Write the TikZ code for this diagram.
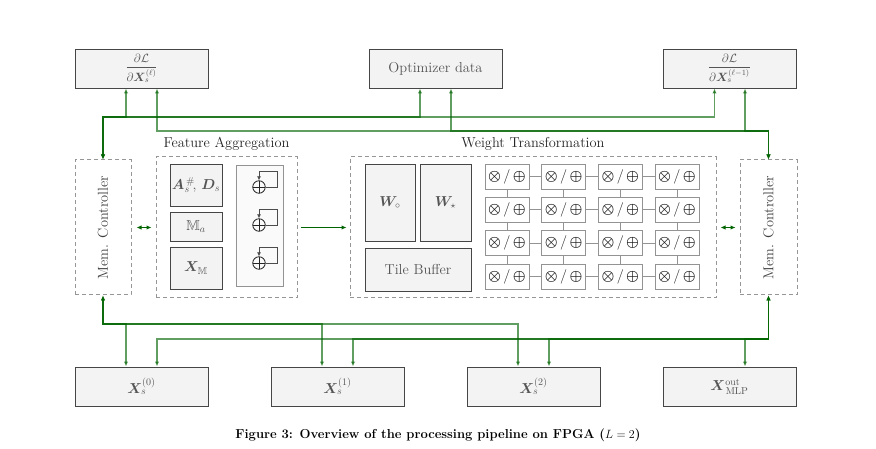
\documentclass[tikz,border=0pt]{standalone}
\usepackage{amsmath,amssymb,bm}
\usetikzlibrary{arrows.meta,calc}
\definecolor{gr}{RGB}{0,100,0}
\definecolor{boxfill}{RGB}{243,243,243}
\definecolor{boxline}{RGB}{70,70,70}
\definecolor{txt}{RGB}{85,85,85}
\definecolor{dashc}{RGB}{150,150,150}
\newcommand\fsz{\fontsize{14.4}{16}\selectfont}
\begin{document}
\begin{tikzpicture}[x=1pt,y=-1pt,
  box/.style={draw=boxline, fill=boxfill, line width=0.95pt, inner sep=0pt, text=txt, font=\fsz},
  iobox/.style={box, minimum width=133pt, minimum height=39pt},
  cont/.style={draw=dashc, dash pattern=on 4pt off 3pt, line width=1pt, inner sep=0pt},
  pe/.style={draw=gray!85, fill=white, line width=0.9pt, minimum width=44pt, minimum height=25pt, inner sep=0pt, text=black!90, font=\fontsize{14.4}{16}\selectfont},
  peline/.style={draw=gray!85, line width=0.9pt},
  sumnode/.style={circle, draw=black!85, line width=0.8pt, minimum size=12.5pt, inner sep=0pt,
    path picture={\draw[black!85, line width=0.8pt] (path picture bounding box.north) -- (path picture bounding box.south)
      (path picture bounding box.west) -- (path picture bounding box.east);}},
  loopline/.style={draw=black!70, line width=0.8pt, -{Latex[length=4pt,width=4pt]}},
  gline/.style={draw=gr, line width=1.5pt, opacity=0.62, {Latex[length=5pt,width=4.5pt]}-{Latex[length=5pt,width=4.5pt]}},
  garrow/.style={draw=gr, line width=1.3pt, -{Latex[length=5pt,width=4.5pt]}},
  gdarrow/.style={draw=gr, line width=1.3pt, {Latex[length=5pt,width=4.5pt]}-{Latex[length=5pt,width=4.5pt]}},
  lbl/.style={font=\fsz, text=black!85, inner sep=0pt}
]
\useasboundingbox[fill=white] (0,0) rectangle (876,449);

% top boxes
\node[iobox, font=\fontsize{12}{14}\selectfont] (d1) at (141.5,68.5) {$\displaystyle\frac{\partial\mathcal{L}}{\partial\bm{X}_s^{(\ell)}}$};
\node[iobox] (opt) at (435.5,68.5) {Optimizer data};
\node[iobox, font=\fontsize{12}{14}\selectfont] (d2) at (729.5,68.5) {$\displaystyle\frac{\partial\mathcal{L}}{\partial\bm{X}_s^{(\ell-1)}}$};

% bottom boxes
\node[iobox] (x0) at (141.5,386.5) {$\bm{X}_s^{(0)}$};
\node[iobox] (x1) at (337.5,386.5) {$\bm{X}_s^{(1)}$};
\node[iobox] (x2) at (533.5,386.5) {$\bm{X}_s^{(2)}$};
\node[iobox] (xo) at (729.5,386.5) {$\bm{X}^{\mathrm{out}}_{\mathrm{\,MLP}}$};

% memory controllers
\node[cont, minimum width=56pt, minimum height=135pt] (lmc) at (103,227.5) {};
\node[lbl, rotate=90, text=black!75] at (lmc.center) {Mem. Controller};
\node[cont, minimum width=57pt, minimum height=135pt] (rmc) at (768.5,227.5) {};
\node[lbl, rotate=90, text=black!75] at (rmc.center) {Mem. Controller};

% feature aggregation
\node[cont, minimum width=141pt, minimum height=141pt] (fa) at (226.5,227.5) {};
\node[lbl, anchor=base] (falbl) at (226.5,148) {Feature Aggregation};
\node[box, minimum width=52pt, minimum height=42pt] (amat) at (196,185) {$\bm{A}_{s}^{\,\#}\!,\,\bm{D}_s$};
\node[box, minimum width=52pt, minimum height=29pt] (ma) at (196,226.5) {$\mathbb{M}_a$};
\node[box, minimum width=52pt, minimum height=42pt] (xm) at (196,268) {$\bm{X}_{\mathbb{M}}$};
\node[draw=gray!85, fill=black!2, line width=0.9pt, minimum width=47pt, minimum height=121pt, inner sep=0pt] (agg) at (259.5,225.5) {};
\foreach \n/\yy in {s1/187,s2/225,s3/263}{
  \node[sumnode] (\n) at (259,\yy) {};
  \draw[loopline] (\n.east) -- ++(12,0) |- ($(\n.north)+(0,-9)$) -- (\n.north);
}

% weight transformation
\node[cont, minimum width=366pt, minimum height=141pt] (wt) at (533,227.5) {};
\node[lbl, anchor=base] (wtlbl) at (533,148) {Weight Transformation};
\node[box, minimum width=50pt, minimum height=77pt] (wo) at (390,202.5) {$\bm{W}_{\circ}$};
\node[box, minimum width=51pt, minimum height=77pt] (ws) at (445.5,202.5) {$\bm{W}_{\star}$};
\node[box, minimum width=106pt, minimum height=43pt] (tb) at (418,269.5) {Tile Buffer};

\foreach \r [count=\i] in {176.5,209.8,243.2,276.5}
  \foreach \c [count=\j] in {507,563.7,620.3,677}
    \node[pe] (pe-\i-\j) at (\c,\r) {$\bm{\otimes}\,/\,\bm{\oplus}$};
\foreach \i in {1,...,4}
  \foreach \j/\k in {1/2,2/3,3/4}{
    \draw[peline] (pe-\i-\j) -- (pe-\i-\k);
    \draw[peline] (pe-\j-\i) -- (pe-\k-\i);
  }

% short green arrows
\draw[gdarrow, shorten <=5pt, shorten >=4pt] (lmc.east) -- (fa.west);
\draw[garrow, shorten <=3pt, shorten >=3pt] (fa.east) -- (wt.west);
\draw[gdarrow, shorten <=4pt, shorten >=4pt] (wt.east) -- (rmc.west);

% anchor coordinates for buses
\coordinate (busA) at (0,117);
\coordinate (busB) at (0,131);
\coordinate (busC) at (0,324);
\coordinate (busD) at (0,339);
\coordinate (ta1) at ([xshift=-15.5pt]d1.south);
\coordinate (ta2) at ([xshift=15.5pt]d1.south);
\coordinate (to1) at ([xshift=-15.5pt]opt.south);
\coordinate (to2) at ([xshift=15.5pt]opt.south);
\coordinate (tb1) at ([xshift=-15pt]d2.south);
\coordinate (tb2) at ([xshift=15.5pt]d2.south);
\coordinate (b01) at ([xshift=-15.5pt]x0.north);
\coordinate (b02) at ([xshift=15.5pt]x0.north);
\coordinate (b11) at ([xshift=-15.5pt]x1.north);
\coordinate (b12) at ([xshift=15.5pt]x1.north);
\coordinate (b21) at ([xshift=-15.5pt]x2.north);
\coordinate (b22) at ([xshift=15.5pt]x2.north);
\coordinate (bo2) at ([xshift=15.5pt]xo.north);

% top buses
\foreach \t in {ta1,to1,tb1}
  \draw[gline] (lmc.north) |- (\t |- busA) -- (\t);
\foreach \t in {tb2,to2,ta2}
  \draw[gline] (rmc.north) |- (\t |- busB) -- (\t);
% bottom buses
\foreach \t in {b01,b11,b21}
  \draw[gline] (lmc.south) |- (\t |- busC) -- (\t);
\foreach \t in {bo2,b22,b12,b02}
  \draw[gline] (rmc.south) |- (\t |- busD) -- (\t);

% caption
\node[inner sep=0pt, font=\bfseries\fontsize{13}{15}\selectfont] (cap) at (438,435) {Figure 3: Overview of the processing pipeline on FPGA ($L=2$)};
\end{tikzpicture}
\end{document}
